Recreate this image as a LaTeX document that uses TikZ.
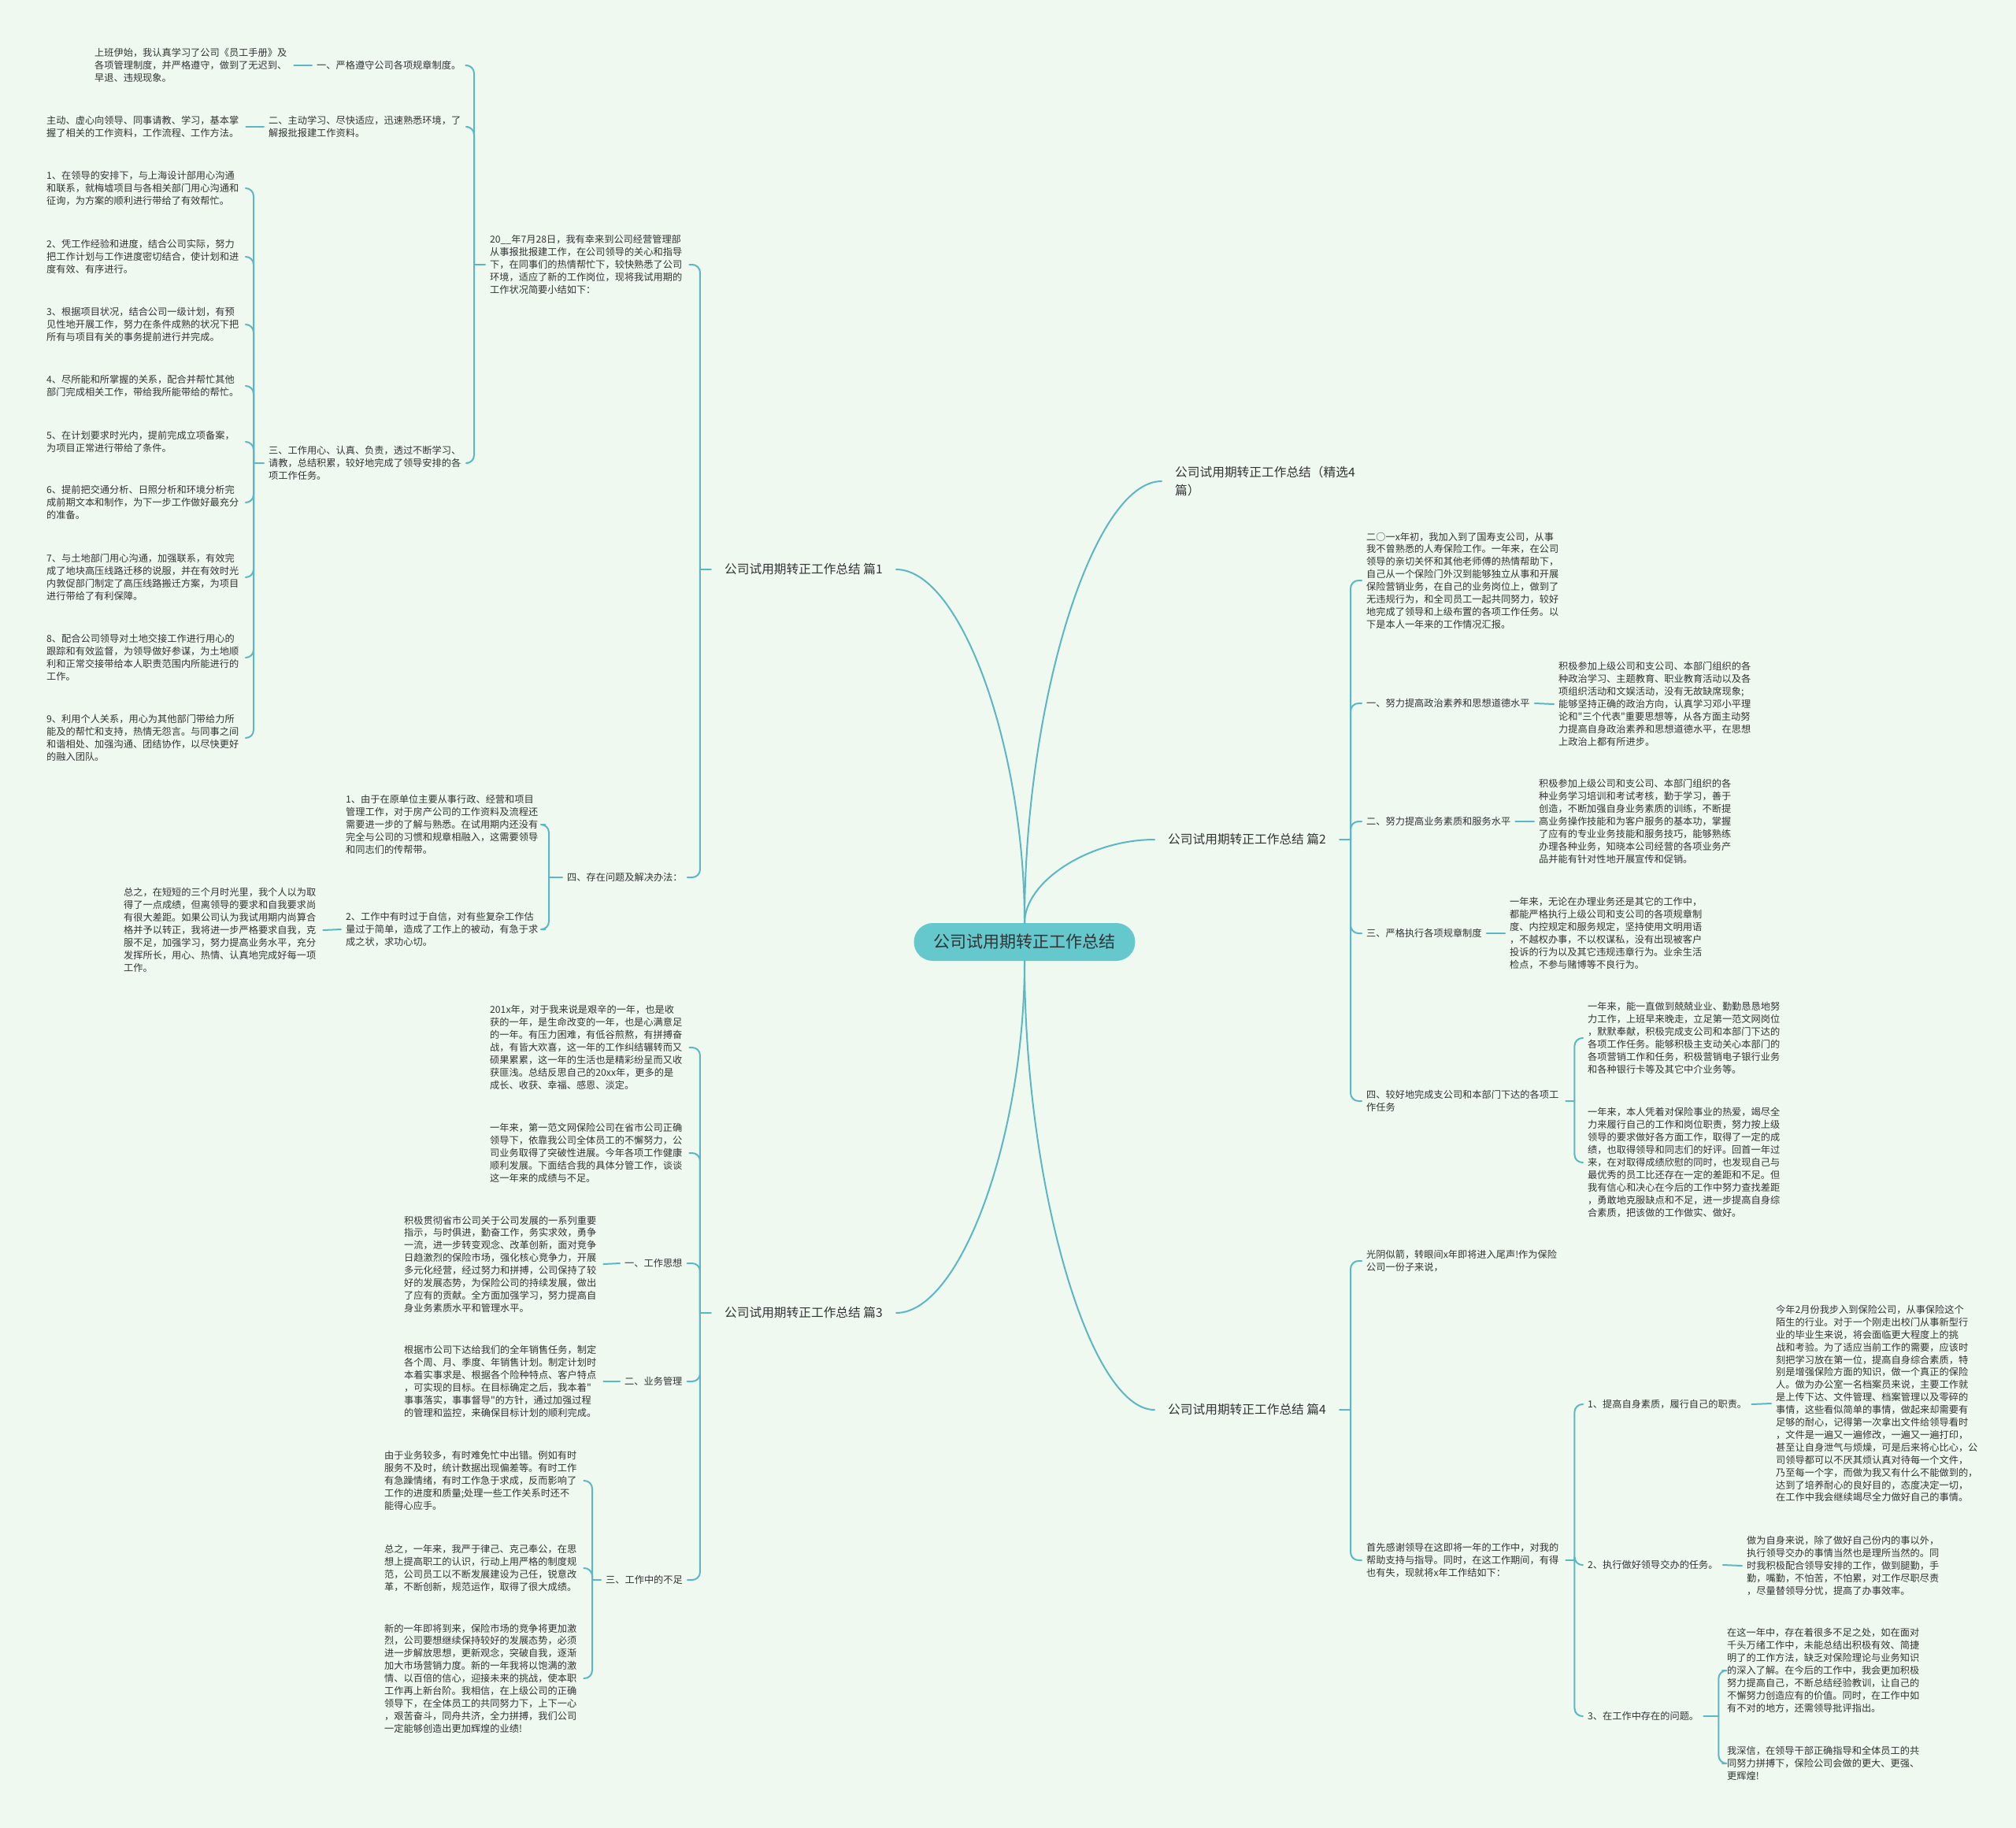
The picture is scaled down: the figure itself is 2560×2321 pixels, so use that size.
\documentclass[tikz,border=0pt]{standalone}
\usepackage{fontspec}
\newfontfamily\cjk{Noto Sans CJK SC}
\usetikzlibrary{calc}
\definecolor{bg}{RGB}{239,249,240}
\definecolor{ln}{RGB}{92,183,196}
\definecolor{rootc}{RGB}{100,200,205}
\definecolor{ink}{RGB}{51,51,51}
\begin{document}
\begin{tikzpicture}[x=1pt,y=-1pt,line join=round,line cap=round,
	txt/.style={anchor=west,align=left,inner xsep=6pt,inner ysep=2pt,text=ink,font=\cjk\fontsize{12.2}{15.9}\selectfont},
	para/.style={txt,text width=247pt},
	lbl/.style={align=left,inner xsep=17pt,text=ink,font=\cjk\fontsize{15.7}{23}\selectfont},
	link/.style={draw=ln,line width=2pt},
	brk/.style={link,rounded corners=10pt}]
	\path[use as bounding box,fill=bg] (0,0) rectangle (2560,2321);
	\node[fill=rootc,rounded corners=24pt,minimum width=281pt,minimum height=48pt,text=ink,font=\cjk\fontsize{21}{25}\selectfont] (root) at (1301,1196) {公司试用期转正工作总结};
	\node[lbl,anchor=west] (p0) at (1475,611) {公司试用期转正工作总结（精选4\\篇）};
	\node[lbl,anchor=east] (p1) at (1138,723) {公司试用期转正工作总结 篇1};
	\node[lbl,anchor=west] (p2) at (1466,1066) {公司试用期转正工作总结 篇2};
	\node[lbl,anchor=east] (p3) at (1138,1667) {公司试用期转正工作总结 篇3};
	\node[lbl,anchor=west] (p4) at (1466,1790) {公司试用期转正工作总结 篇4};
	\foreach \p/\e/\s in {p0/west/north,p2/west/north,p4/west/south,p1/east/north,p3/east/south}
		\draw[link] (root.\s) .. controls ($(root.\s)!.5!(root.\s |- \p.\e)$) and ($(\p.\e)!.5!(root.\s |- \p.\e)$) .. (\p.\e);

	\node[para] (a0) at (616,336) {20\_\_年7月28日，我有幸来到公司经营管理部\\从事报批报建工作，在公司领导的关心和指导\\下，在同事们的热情帮忙下，较快熟悉了公司\\环境，适应了新的工作岗位，现将我试用期的\\工作状况简要小结如下：};
	\node[txt] (a1) at (396,83) {一、严格遵守公司各项规章制度。};
	\node[para] (a1t) at (114,83) {上班伊始，我认真学习了公司《员工手册》及\\各项管理制度，并严格遵守，做到了无迟到、\\早退、违规现象。};
	\node[para] (a2) at (335,161) {二、主动学习、尽快适应，迅速熟悉环境，了\\解报批报建工作资料。};
	\node[para] (a2t) at (53,161) {主动、虚心向领导、同事请教、学习，基本掌\\握了相关的工作资料，工作流程、工作方法。};
	\node[para] (a3) at (335,588) {三、工作用心、认真、负责，透过不断学习、\\请教，总结积累，较好地完成了领导安排的各\\项工作任务。};
	\foreach \n/\y/\t in {
		1/239/{1、在领导的安排下，与上海设计部用心沟通\\和联系，就梅墟项目与各相关部门用心沟通和\\征询，为方案的顺利进行带给了有效帮忙。},
		2/326/{2、凭工作经验和进度，结合公司实际，努力\\把工作计划与工作进度密切结合，使计划和进\\度有效、有序进行。},
		3/412/{3、根据项目状况，结合公司一级计划，有预\\见性地开展工作，努力在条件成熟的状况下把\\所有与项目有关的事务提前进行并完成。},
		4/490/{4、尽所能和所掌握的关系，配合并帮忙其他\\部门完成相关工作，带给我所能带给的帮忙。},
		5/561/{5、在计划要求时光内，提前完成立项备案，\\为项目正常进行带给了条件。},
		6/638/{6、提前把交通分析、日照分析和环境分析完\\成前期文本和制作，为下一步工作做好最充分\\的准备。},
		7/733/{7、与土地部门用心沟通，加强联系，有效完\\成了地块高压线路迁移的说服，并在有效时光\\内敦促部门制定了高压线路搬迁方案，为项目\\进行带给了有利保障。},
		8/835/{8、配合公司领导对土地交接工作进行用心的\\跟踪和有效监督，为领导做好参谋，为土地顺\\利和正常交接带给本人职责范围内所能进行的\\工作。},
		9/937/{9、利用个人关系，用心为其他部门带给力所\\能及的帮忙和支持，热情无怨言。与同事之间\\和谐相处、加强沟通、团结协作，以尽快更好\\的融入团队。}}
		\node[para] (i\n) at (53,\y) {\t};
	\node[txt] (a4) at (714,1114) {四、存在问题及解决办法：};
	\node[para] (a4q1) at (433,1047) {1、由于在原单位主要从事行政、经营和项目\\管理工作，对于房产公司的工作资料及流程还\\需要进一步的了解与熟悉。在试用期内还没有\\完全与公司的习惯和规章相融入，这需要领导\\和同志们的传帮带。};
	\node[para] (a4q2) at (433,1180) {2、工作中有时过于自信，对有些复杂工作估\\量过于简单，造成了工作上的被动，有急于求\\成之状，求功心切。};
	\node[para] (a4s) at (151,1181) {总之，在短短的三个月时光里，我个人以为取\\得了一点成绩，但离领导的要求和自我要求尚\\有很大差距。如果公司认为我试用期内尚算合\\格并予以转正，我将进一步严格要求自我，克\\服不足，加强学习，努力提高业务水平，充分\\发挥所长，用心、热情、认真地完成好每一项\\工作。};

	\node[para] (c0) at (616,1330) {201x年，对于我来说是艰辛的一年，也是收\\获的一年，是生命改变的一年，也是心满意足\\的一年。有压力困难，有低谷煎熬，有拼搏奋\\战，有皆大欢喜，这一年的工作纠结辗转而又\\硕果累累，这一年的生活也是精彩纷呈而又收\\获匪浅。总结反思自己的20xx年，更多的是\\成长、收获、幸福、感恩、淡定。};
	\node[para] (c1) at (616,1464) {一年来，第一范文网保险公司在省市公司正确\\领导下，依靠我公司全体员工的不懈努力，公\\司业务取得了突破性进展。今年各项工作健康\\顺利发展。下面结合我的具体分管工作，谈谈\\这一年来的成绩与不足。};
	\node[txt] (c2) at (787,1604) {一、工作思想};
	\node[para] (c2t) at (507,1605) {积极贯彻省市公司关于公司发展的一系列重要\\指示，与时俱进，勤奋工作，务实求效，勇争\\一流，进一步转变观念、改革创新，面对竞争\\日趋激烈的保险市场，强化核心竞争力，开展\\多元化经营，经过努力和拼搏，公司保持了较\\好的发展态势，为保险公司的持续发展，做出\\了应有的贡献。全方面加强学习，努力提高自\\身业务素质水平和管理水平。};
	\node[txt] (c3) at (787,1754) {二、业务管理};
	\node[para] (c3t) at (507,1754) {根据市公司下达给我们的全年销售任务，制定\\各个周、月、季度、年销售计划。制定计划时\\本着实事求是、根据各个险种特点、客户特点\\，可实现的目标。在目标确定之后，我本着"\\事事落实，事事督导"的方针，通过加强过程\\的管理和监控，来确保目标计划的顺利完成。};
	\node[txt] (c4) at (763,2006) {三、工作中的不足};
	\node[para] (c4a) at (482,1880) {由于业务较多，有时难免忙中出错。例如有时\\服务不及时，统计数据出现偏差等。有时工作\\有急躁情绪，有时工作急于求成，反而影响了\\工作的进度和质量;处理一些工作关系时还不\\能得心应手。};
	\node[para] (c4b) at (482,1991) {总之，一年来，我严于律己、克己奉公，在思\\想上提高职工的认识，行动上用严格的制度规\\范，公司员工以不断发展建设为己任，锐意改\\革，不断创新，规范运作，取得了很大成绩。};
	\node[para] (c4c) at (482,2131) {新的一年即将到来，保险市场的竞争将更加激\\烈，公司要想继续保持较好的发展态势，必须\\进一步解放思想，更新观念，突破自我，逐渐\\加大市场营销力度。新的一年我将以饱满的激\\情、以百倍的信心，迎接未来的挑战，使本职\\工作再上新台阶。我相信，在上级公司的正确\\领导下，在全体员工的共同努力下，上下一心\\，艰苦奋斗，同舟共济，全力拼搏，我们公司\\一定能够创造出更加辉煌的业绩!};

	\node[para] (b0) at (1729,737) {二○一x年初，我加入到了国寿支公司，从事\\我不曾熟悉的人寿保险工作。一年来，在公司\\领导的亲切关怀和其他老师傅的热情帮助下，\\自己从一个保险门外汉到能够独立从事和开展\\保险营销业务，在自己的业务岗位上，做到了\\无违规行为，和全司员工一起共同努力，较好\\地完成了领导和上级布置的各项工作任务。以\\下是本人一年来的工作情况汇报。};
	\node[txt] (b1) at (1729,893) {一、努力提高政治素养和思想道德水平};
	\node[para] (b1t) at (1973,894) {积极参加上级公司和支公司、本部门组织的各\\种政治学习、主题教育、职业教育活动以及各\\项组织活动和文娱活动，没有无故缺席现象;\\能够坚持正确的政治方向，认真学习邓小平理\\论和"三个代表"重要思想等，从各方面主动努\\力提高自身政治素养和思想道德水平，在思想\\上政治上都有所进步。};
	\node[txt] (b2) at (1729,1043) {二、努力提高业务素质和服务水平};
	\node[para] (b2t) at (1948,1043) {积极参加上级公司和支公司、本部门组织的各\\种业务学习培训和考试考核，勤于学习，善于\\创造，不断加强自身业务素质的训练，不断提\\高业务操作技能和为客户服务的基本功，掌握\\了应有的专业业务技能和服务技巧，能够熟练\\办理各种业务，知晓本公司经营的各项业务产\\品并能有针对性地开展宣传和促销。};
	\node[txt] (b3) at (1729,1185) {三、严格执行各项规章制度};
	\node[para] (b3t) at (1911,1185) {一年来，无论在办理业务还是其它的工作中，\\都能严格执行上级公司和支公司的各项规章制\\度、内控规定和服务规定，坚持使用文明用语\\，不越权办事，不以权谋私，没有出现被客户\\投诉的行为以及其它违规违章行为。业余生活\\检点，不参与赌博等不良行为。};
	\node[para] (b4) at (1729,1398) {四、较好地完成支公司和本部门下达的各项工\\作任务};
	\node[para] (b4a) at (2010,1318) {一年来，能一直做到兢兢业业、勤勤恳恳地努\\力工作，上班早来晚走，立足第一范文网岗位\\，默默奉献，积极完成支公司和本部门下达的\\各项工作任务。能够积极主支动关心本部门的\\各项营销工作和任务，积极营销电子银行业务\\和各种银行卡等及其它中介业务等。};
	\node[para] (b4b) at (2010,1476) {一年来，本人凭着对保险事业的热爱，竭尽全\\力来履行自己的工作和岗位职责，努力按上级\\领导的要求做好各方面工作，取得了一定的成\\绩，也取得领导和同志们的好评。回首一年过\\来，在对取得成绩欣慰的同时，也发现自己与\\最优秀的员工比还存在一定的差距和不足。但\\我有信心和决心在今后的工作中努力查找差距\\，勇敢地克服缺点和不足，进一步提高自身综\\合素质，把该做的工作做实、做好。};

	\node[para] (d0) at (1729,1601) {光阴似箭，转眼间x年即将进入尾声!作为保险\\公司一份子来说，};
	\node[para] (d1) at (1729,1981) {首先感谢领导在这即将一年的工作中，对我的\\帮助支持与指导。同时，在这工作期间，有得\\也有失，现就将x年工作结如下：};
	\node[txt] (d1a) at (2010,1783) {1、提高自身素质，履行自己的职责。};
	\node[para] (d1at) at (2249,1782) {今年2月份我步入到保险公司，从事保险这个\\陌生的行业。对于一个刚走出校门从事新型行\\业的毕业生来说，将会面临更大程度上的挑\\战和考验。为了适应当前工作的需要，应该时\\刻把学习放在第一位，提高自身综合素质，特\\别是增强保险方面的知识，做一个真正的保险\\人。做为办公室一名档案员来说，主要工作就\\是上传下达、文件管理、档案管理以及零碎的\\事情，这些看似简单的事情，做起来却需要有\\足够的耐心，记得第一次拿出文件给领导看时\\，文件是一遍又一遍修改，一遍又一遍打印，\\甚至让自身泄气与烦燥，可是后来将心比心，公\\司领导都可以不厌其烦认真对待每一个文件，\\乃至每一个字，而做为我又有什么不能做到的，\\达到了培养耐心的良好目的，态度决定一切，\\在工作中我会继续竭尽全力做好自己的事情。};
	\node[txt] (d1b) at (2010,1987) {2、执行做好领导交办的任务。};
	\node[para] (d1bt) at (2212,1988) {做为自身来说，除了做好自己份内的事以外，\\执行领导交办的事情当然也是理所当然的。同\\时我积极配合领导安排的工作，做到腿勤，手\\勤，嘴勤，不怕苦，不怕累，对工作尽职尽责\\，尽量替领导分忧，提高了办事效率。};
	\node[txt] (d1c) at (2010,2179) {3、在工作中存在的问题。};
	\node[para] (d1c1) at (2187,2121) {在这一年中，存在着很多不足之处，如在面对\\千头万绪工作中，未能总结出积极有效、简捷\\明了的工作方法，缺乏对保险理论与业务知识\\的深入了解。在今后的工作中，我会更加积极\\努力提高自己，不断总结经验教训，让自己的\\不懈努力创造应有的价值。同时，在工作中如\\有不对的地方，还需领导批评指出。};
	\node[para] (d1c2) at (2187,2239) {我深信，在领导干部正确指导和全体员工的共\\同努力拼搏下，保险公司会做的更大、更强、\\更辉煌!};

	\path (p1.west) ++(-14,0) coordinate (k1)
		(a0.west) ++(-14,0) coordinate (ka0)
		(a3.west) ++(-13,0) coordinate (ka3)
		(a4.west) ++(-17,0) coordinate (ka4)
		(p3.west) ++(-14,0) coordinate (k3)
		(c4.west) ++(-11,0) coordinate (kc4)
		(p2.east) ++(14,0) coordinate (k2)
		(b4.east) ++(11,0) coordinate (kb4)
		(p4.east) ++(14,0) coordinate (k4)
		(d1.east) ++(11,0) coordinate (kd1)
		(d1c.east) ++(19,0) coordinate (kd1c);
	\foreach \a/\k in {p1/k1,a0/ka0,a3/ka3,a4/ka4,p3/k3,c4/kc4} \draw[link] (\a.west) -- (\k);
	\foreach \a/\k in {p2/k2,b4/kb4,p4/k4,d1/kd1,d1c/kd1c} \draw[link] (\a.east) -- (\k);
	\foreach \k/\c in {k1/a0,k1/a4,ka0/a1,ka0/a2,ka0/a3,ka3/i1,ka3/i2,ka3/i3,ka3/i4,ka3/i5,ka3/i6,ka3/i7,ka3/i8,ka3/i9,ka4/a4q1,ka4/a4q2,k3/c0,k3/c1,k3/c2,k3/c3,k3/c4,kc4/c4a,kc4/c4b,kc4/c4c}
		\draw[brk] (\k) |- (\c.east);
	\foreach \k/\c in {k2/b0,k2/b1,k2/b2,k2/b3,k2/b4,kb4/b4a,kb4/b4b,k4/d0,k4/d1,kd1/d1a,kd1/d1b,kd1/d1c,kd1c/d1c1,kd1c/d1c2}
		\draw[brk] (\k) |- (\c.west);
	\foreach \a/\b in {a1/a1t,a2/a2t,a4q2/a4s,c2/c2t,c3/c3t} \draw[link] (\a.west) -- (\b.east);
	\foreach \a/\b in {b1/b1t,b2/b2t,b3/b3t,d1a/d1at,d1b/d1bt} \draw[link] (\a.east) -- (\b.west);
\end{tikzpicture}
\end{document}
